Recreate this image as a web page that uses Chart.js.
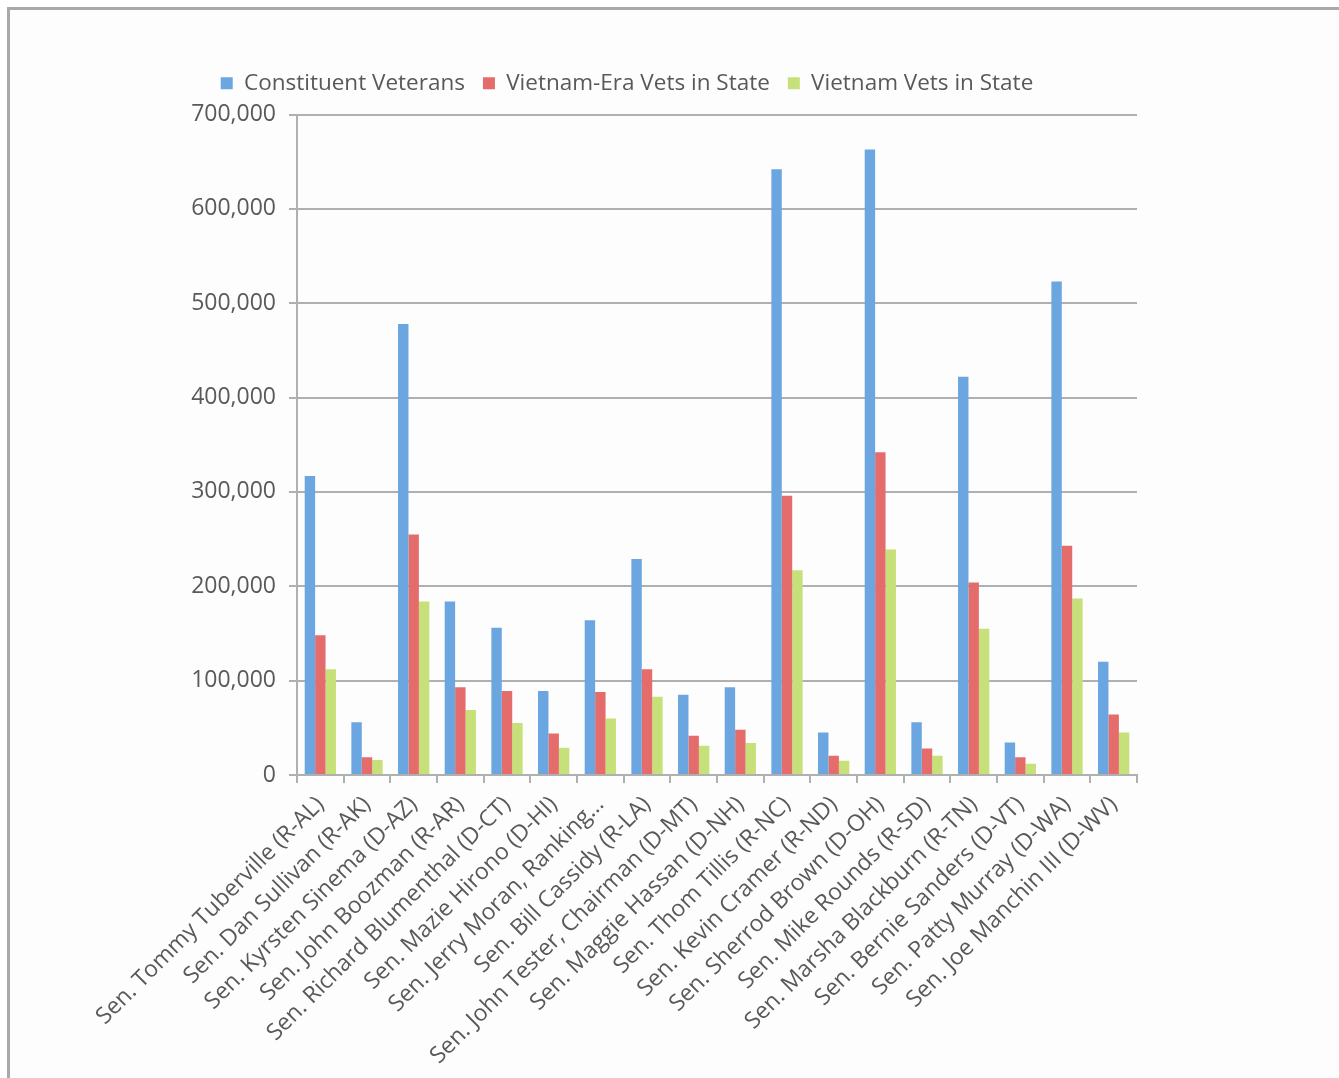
<!DOCTYPE html>
<html>
<head>
<meta charset="utf-8">
<script src="https://cdn.jsdelivr.net/npm/chart.js@4.4.1/dist/chart.umd.min.js"></script>
<style>
  body { margin: 0; background: #ffffff; }
  #wrap { position: relative; width: 1339px; height: 1078px; overflow: hidden; }
  #frame {
    position: absolute; left: 7px; top: 7px; width: 1329px; height: 1100px;
    border-left: 3px solid #a9a9a9; border-top: 3px solid #a9a9a9; border-right: 1px solid #c8c8c8;
    background: #fdfdfd;
  }
  #myChart { position: absolute; left: 0; top: 0; }
</style>
</head>
<body>
<div id="wrap">
  <div id="frame"></div>
  <canvas id="myChart" width="1339" height="1078"></canvas>
</div>
<script>
'use strict';

// chart data
let senators = [
  'Sen. Tommy Tuberville (R-AL)',
  'Sen. Dan Sullivan (R-AK)',
  'Sen. Kyrsten Sinema (D-AZ)',
  'Sen. John Boozman (R-AR)',
  'Sen. Richard Blumenthal (D-CT)',
  'Sen. Mazie Hirono (D-HI)',
  'Sen. Jerry Moran, Ranking…',
  'Sen. Bill Cassidy (R-LA)',
  'Sen. John Tester, Chairman (D-MT)',
  'Sen. Maggie Hassan (D-NH)',
  'Sen. Thom Tillis (R-NC)',
  'Sen. Kevin Cramer (R-ND)',
  'Sen. Sherrod Brown (D-OH)',
  'Sen. Mike Rounds (R-SD)',
  'Sen. Marsha Blackburn (R-TN)',
  'Sen. Bernie Sanders (D-VT)',
  'Sen. Patty Murray (D-WA)',
  'Sen. Joe Manchin III (D-WV)'
];
let constituentVets = [317000, 56000, 478000, 184000, 156000, 89000, 164000, 229000, 85000, 93000, 642000, 45000, 663000, 56000, 422000, 34500, 523000, 120000];
let vietnamEraVets = [148000, 18700, 255000, 93000, 89000, 44000, 88000, 112000, 41500, 48000, 296000, 20500, 342000, 28000, 204000, 18700, 243000, 64000];
let vietnamVets = [112000, 15900, 184000, 69000, 55000, 29000, 60000, 83000, 31000, 34000, 217000, 15000, 239000, 20500, 155000, 12000, 187000, 45000];
let seriesNames = ['Constituent Veterans', 'Vietnam-Era Vets in State', 'Vietnam Vets in State'];

let textGray = '#595959';
let lineGray = '#b0b0b0';
let tickFont = { family: '"Open Sans", sans-serif', size: 23 };
let legendFont = { family: '"Open Sans", sans-serif', size: 22.5 };

// push the plot a bit further below the legend
let legendGap = {
  id: 'legendGap',
  beforeInit: function (chart) {
    let origFit = chart.legend.fit;
    chart.legend.fit = function () {
      origFit.bind(this)();
      this.height += 10;
    };
  }
};

let chartObject = {
  type: 'bar',
  data: {
    labels: senators,
    datasets: [{
      label: seriesNames[0],
      data: constituentVets,
      backgroundColor: '#6CA6E1'
    },
    {
      label: seriesNames[1],
      data: vietnamEraVets,
      backgroundColor: '#E46C6A'
    },
    {
      label: seriesNames[2],
      data: vietnamVets,
      backgroundColor: '#C7E17A'
    }
    ]
  },
  options: {
    responsive: false,
    animation: false,
    layout: {
      padding: { top: 54, left: 117, right: 202, bottom: 0 }
    },
    datasets: {
      bar: { categoryPercentage: 0.67, barPercentage: 1.0 }
    },
    plugins: {
      tooltip: { enabled: false },
      legend: {
        position: 'top',
        align: 'center',
        labels: {
          color: textGray,
          font: legendFont,
          boxWidth: 12,
          boxHeight: 12,
          padding: 18
        }
      }
    },
    scales: {
      x: {
        afterFit: function (scale) { scale.height = 303; },
        grid: {
          offset: true,
          drawOnChartArea: false,
          color: lineGray,
          lineWidth: 2,
          tickLength: 8
        },
        border: { color: lineGray, width: 2 },
        ticks: {
          color: textGray,
          font: tickFont,
          autoSkip: false,
          maxRotation: 45,
          minRotation: 45,
          padding: 8
        }
      },
      y: {
        min: 0,
        max: 700000,
        afterFit: function (scale) { scale.width = 180; },
        grid: {
          color: lineGray,
          lineWidth: 2,
          tickLength: 8
        },
        border: { color: lineGray, width: 2 },
        ticks: {
          stepSize: 100000,
          color: textGray,
          font: tickFont,
          padding: 13,
          callback: function (value) { return value.toLocaleString('en-US'); }
        }
      }
    }
  },
  plugins: [legendGap]
};

let ctx = document.getElementById('myChart').getContext('2d');
let myChart = new Chart(ctx, chartObject);
</script>
</body>
</html>
